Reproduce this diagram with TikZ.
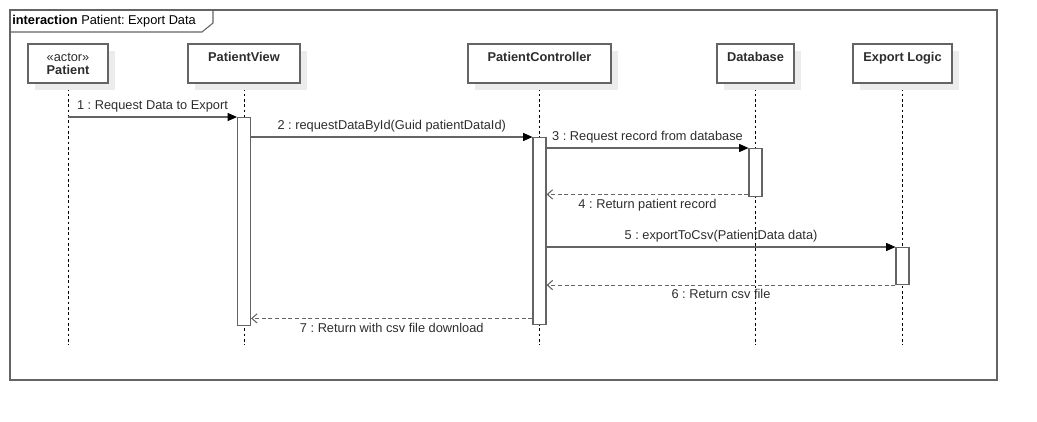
\documentclass[tikz,border=0pt]{standalone}
\usepackage{fontspec}
\setmainfont{Liberation Sans}
\usepackage{xcolor}
\usetikzlibrary{arrows.meta, shadows}

\definecolor{umlline}{RGB}{100,100,100}
\definecolor{umltext}{RGB}{45,45,45}
\definecolor{umlshadow}{RGB}{236,236,236}
\frenchspacing

\begin{document}
\begin{tikzpicture}[x=0.75pt, y=-0.75pt,
    font=\fontsize{9.6}{10}\selectfont, text=umltext,
    head/.style={draw=umlline, fill=white, line width=0.8pt, minimum height=29.25pt,
        align=center, inner sep=0pt, font=\fontsize{9.6}{9.75}\selectfont\bfseries,
        drop shadow={shadow xshift=5.5pt, shadow yshift=-5.5pt, fill=umlshadow, opacity=1}},
    lifeline/.style={black, dash pattern=on 2pt off 2pt, line width=0.6pt},
    act/.style={draw=umlline, fill=white, line width=0.8pt, minimum width=9.75pt,
        inner sep=0pt, anchor=north},
    call/.style={umlline, line width=0.8pt, -{Triangle[length=7pt, width=6pt, color=black]}},
    reply/.style={umlline, line width=0.8pt, dash pattern=on 3pt off 2pt,
        -{Straight Barb[length=4pt, width=7pt]}},
    msg/.style={text=umltext, inner sep=1.5pt}]
    \useasboundingbox (0,0) rectangle (1037,421);

    % frame with its tab
    \draw[umlline, line width=0.8pt] (10,10) rectangle (997,380);
    \draw[umlline, line width=0.8pt] (10,32) -- (202,32) -- (213,23) -- (213,10);
    \node[anchor=west, inner sep=0pt, text=black] (frametitle) at (12,21)
        {\textbf{interaction} Patient: Export Data};

    % lifeline heads
    \foreach \n/\x/\w/\t in {patient/68/60/{{\mdseries «actor»}\\Patient},
                             view/244/84/{PatientView\\\mbox{}},
                             ctrl/539.5/107.25/{PatientController\\\mbox{}},
                             db/755.5/57.75/{Database\\\mbox{}},
                             export/902.5/74.25/{Export Logic\\\mbox{}}} {
        \draw[lifeline] (\x,83) -- (\x,345);
        \node[head, minimum width=\w pt] (\n) at (\x,63.5) {\t};
    }

    % activations
    \node[act, minimum height=156pt]    (viewact)   at (view.south |- 0,117) {};
    \node[act, minimum height=140.25pt] (ctrlact)   at (ctrl.south |- 0,137) {};
    \node[act, minimum height=36pt]     (dbact)     at (db.south |- 0,148) {};
    \node[act, minimum height=27.75pt]  (exportact) at (export.south |- 0,247) {};

    % messages
    \draw[call] (patient.south |- viewact.north) -- (viewact.north west)
        node[midway, above=1.5pt, msg] {1 : Request Data to Export};
    \draw[call] (viewact.east |- ctrlact.north) -- (ctrlact.north west)
        node[midway, above=1.5pt, msg] {2 : requestDataById(Guid patientDataId)};
    \draw[call] (ctrlact.east |- dbact.north) -- (dbact.north west)
        node[midway, above=1.5pt, msg] {3 : Request record from database};
    \draw[reply] ([yshift=2pt]dbact.south west) -- ([yshift=2pt]ctrlact.east |- dbact.south)
        node[midway, below=1.5pt, msg] {4 : Return patient record};
    \draw[call] (ctrlact.east |- exportact.north) -- (exportact.north west)
        node[midway, above=1.5pt, msg] {5 : exportToCsv(PatientData data)};
    \draw[reply] (exportact.south west) -- (ctrlact.east |- exportact.south)
        node[midway, below=1.5pt, msg] {6 : Return csv file};
    \draw[reply] ([yshift=5pt]ctrlact.south west) -- ([yshift=5pt]viewact.east |- ctrlact.south)
        node[midway, below=1.5pt, msg] {7 : Return with csv file download};
\end{tikzpicture}
\end{document}
